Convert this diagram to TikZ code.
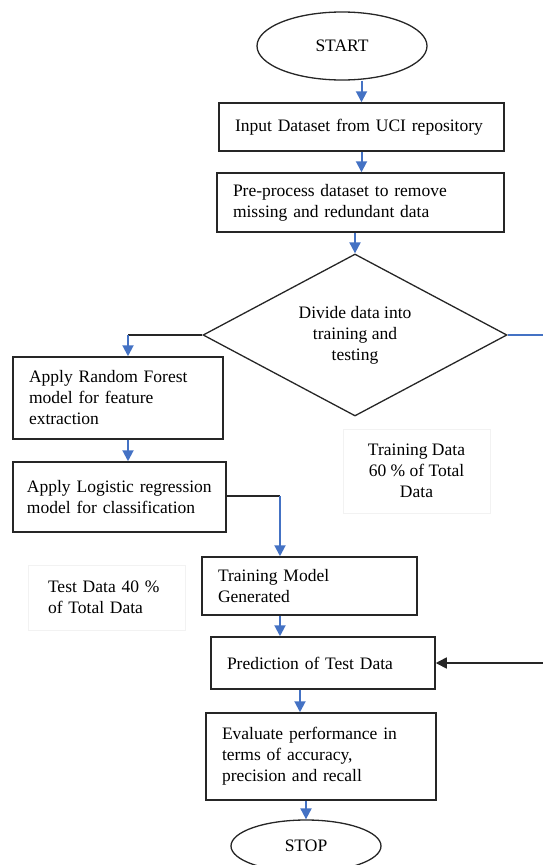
\documentclass[tikz,border=0pt]{standalone}
\usepackage{fontspec}
\setmainfont{Liberation Serif}
\usetikzlibrary{arrows.meta,shapes.geometric}
\definecolor{flowblue}{RGB}{68,114,196}
\tikzset{>={Triangle[length=11pt,width=11pt]}}
\tikzset{
  txt/.style={font=\fontsize{17.5}{21}\selectfont},
  stepbox/.style={txt, draw=black!85, line width=1.5pt, rectangle, inner xsep=16pt, inner ysep=0pt, align=left},
  terminal/.style={txt, draw=black!85, line width=1.3pt, ellipse, inner sep=0pt},
  decision/.style={txt, draw=black!85, line width=1.3pt, diamond, aspect=1.88, inner sep=0pt, align=center},
  note/.style={txt, draw=black!5, line width=1pt, rectangle, inner ysep=0pt},
  flow/.style={->, flowblue, line width=2pt},
  plain/.style={black!85, line width=1.6pt}
}

\begin{document}
\begin{tikzpicture}[x=1pt,y=-1pt]
  \useasboundingbox (0,0) rectangle (542,865);
  % main column
  \node[terminal, minimum width=170pt, minimum height=68pt] (start) at (342,46) {START};
  \node[stepbox, text width=253pt, minimum height=48pt] (input) at (361.5,127) {Input Dataset from UCI repository};
  \node[stepbox, text width=255pt, minimum height=59pt] (prep) at (360.5,202.5) {Pre-process dataset to remove\\missing and redundant data};
  \node[decision, minimum width=304pt, minimum height=162pt] (div) at (355,335) {Divide data into\\training and\\testing};
  % left branch
  \node[stepbox, text width=178pt, minimum height=82pt] (rf) at (118,398) {Apply Random Forest\\model for feature\\extraction};
  \node[stepbox, inner xsep=14pt, text width=185pt, minimum height=70pt] (lr) at (119.5,497) {Apply Logistic regression\\model for classification};
  \node[stepbox, text width=183pt, minimum height=58pt] (train) at (309.5,586) {Training Model\\Generated};
  \node[stepbox, text width=192pt, minimum height=52pt] (pred) at (323,663) {Prediction of Test Data};
  \node[stepbox, text width=198pt, minimum height=87pt] (eval) at (321,756.5) {Evaluate performance in\\terms of accuracy,\\precision and recall};
  \node[terminal, minimum width=150pt, minimum height=52pt] (stop) at (306,846) {STOP};
  % side notes
  \node[note, minimum width=147pt, minimum height=84pt, align=center] (trdata) at (416.5,471) {Training Data\\60 \% of Total\\Data};
  \node[note, text width=117pt, inner xsep=20pt, minimum height=65pt, align=left] (tedata) at (106.5,597.5) {Test Data 40 \%\\of Total Data};
  % bends
  \coordinate (lbend) at (128,335);
  \coordinate (rbend) at (280,496);
  \coordinate (redge) at (560,335);
  \coordinate (rin) at (560,663);
  % connectors
  \draw[flow] (input.north |- start.south) -- (input.north);
  \draw[flow] (input.south) -- (input.south |- prep.north);
  \draw[flow] (div.north |- prep.south) -- (div.north);
  \draw[plain] (div.west) -- (lbend);
  \draw[flow] (lbend) -- (lbend |- rf.north);
  \draw[flow] (lbend |- rf.south) -- (lbend |- lr.north);
  \draw[plain] (lr.east |- rbend) -- (rbend);
  \draw[flow] (rbend) -- (rbend |- train.north);
  \draw[flow] (rbend |- train.south) -- (rbend |- pred.north);
  \draw[flow] ([xshift=-23pt]pred.south) -- ([xshift=-23pt]pred.south |- eval.north);
  \draw[flow] (stop.north |- eval.south) -- (stop.north);
  % right branch, runs off the page
  \draw[flowblue, line width=2pt] (div.east) -- (redge);
  \draw[plain, ->] (rin) -- (pred.east);
\end{tikzpicture}
\end{document}
